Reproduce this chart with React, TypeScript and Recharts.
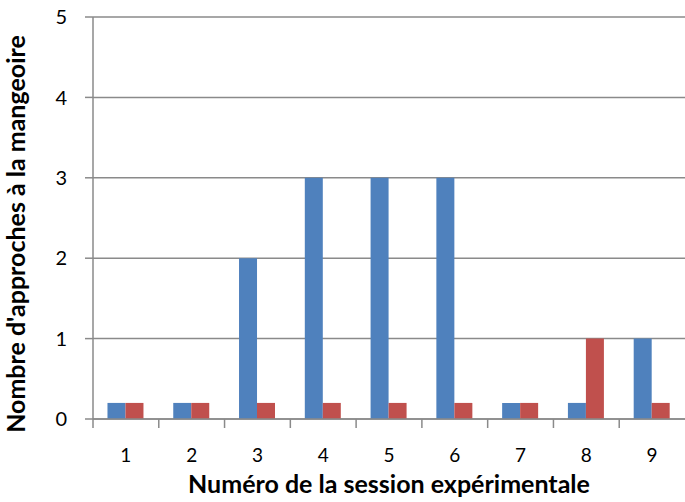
import React from 'react'
import { BarChart, Bar, XAxis, YAxis, CartesianGrid, Label } from 'recharts'

// Nombre d'approches par session
const sessions = ['1', '2', '3', '4', '5', '6', '7', '8', '9']
const serieBleue = [0.2, 0.2, 2, 3, 3, 3, 0.2, 0.2, 1]
const serieRouge = [0.2, 0.2, 0.2, 0.2, 0.2, 0.2, 0.2, 1, 0.2]
const yTicks = [0, 1, 2, 3, 4, 5]

const data = sessions.map((s, i) => ({
  session: s,
  bleu: serieBleue[i],
  rouge: serieRouge[i],
}))

const FONT = 'Lato, "Open Sans", sans-serif'
const GRID = '#8a8a8a'

// category tick: label centred, tick mark on the left boundary of the band
function SessionTick(props: any) {
  const { x, y, payload } = props
  const half = payload && payload.offset ? payload.offset : 33
  return (
    <g>
      <line x1={x - half} x2={x - half} y1={y - 30} y2={y - 21} stroke={GRID} strokeWidth={1.5} />
      <text x={x} y={y} dy="0.71em" textAnchor="middle" fontSize={19} fill="#000" fontFamily={FONT}>
        {payload.value}
      </text>
    </g>
  )
}

export default function App() {
  return (
    <div style={{ width: 685, height: 502, background: '#fff' }}>
      <style>{'body{margin:0}'}</style>
      <BarChart
        width={685}
        height={502}
        data={data}
        margin={{ top: 17, right: 0, bottom: 0, left: 0 }}
        barCategoryGap="22%"
        barGap={0}
      >
        <CartesianGrid vertical={false} stroke={GRID} strokeWidth={1.5} />
        <XAxis
          dataKey="session"
          height={83}
          axisLine={{ stroke: GRID, strokeWidth: 1.5 }}
          tickLine={false}
          tickMargin={0}
          tickSize={30}
          tick={<SessionTick />}
          interval={0}
        >
          <Label
            content={({ viewBox }: any) => (
              <text
                x={viewBox.x + viewBox.width / 2}
                y={493}
                textAnchor="middle"
                fontSize={25}
                fontWeight="bold"
                fontFamily={FONT}
                fill="#000"
              >
                Numéro de la session expérimentale
              </text>
            )}
          />
        </XAxis>
        <YAxis
          width={93}
          domain={[0, 5]}
          ticks={yTicks}
          interval={0}
          axisLine={{ stroke: GRID, strokeWidth: 1.5 }}
          tickLine={{ stroke: GRID, strokeWidth: 1.5 }}
          tickSize={8}
          tickMargin={18}
          tick={{ fontSize: 20, fill: '#000', fontFamily: FONT }}
        >
          <Label
            content={({ viewBox }: any) => {
              const cy = viewBox.y + viewBox.height / 2 + 16
              return (
                <text
                  x={25}
                  y={cy}
                  transform={`rotate(-90 25 ${cy})`}
                  textAnchor="middle"
                  fontSize={25}
                  fontWeight="bold"
                  fontFamily={FONT}
                  fill="#000"
                >
                  Nombre d'approches à la mangeoire
                </text>
              )
            }}
          />
        </YAxis>
        <Bar dataKey="bleu" fill="#4F81BD" isAnimationActive={false} />
        <Bar dataKey="rouge" fill="#C0504D" isAnimationActive={false} />
      </BarChart>
    </div>
  )
}
